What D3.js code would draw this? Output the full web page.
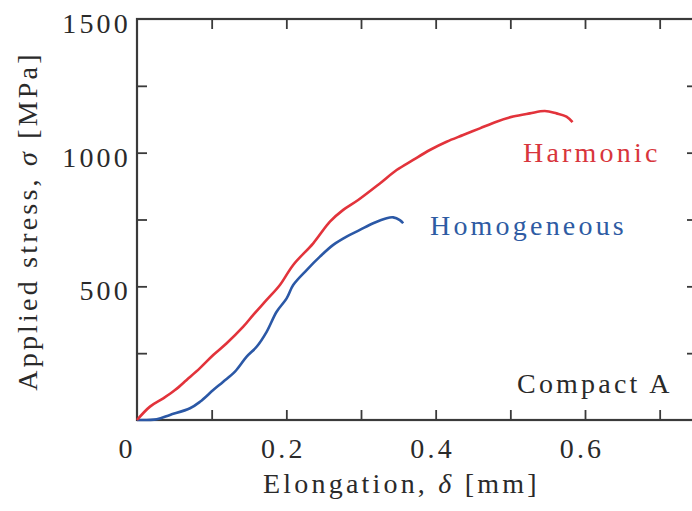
<!DOCTYPE html>
<html><head><meta charset="utf-8">
<script src="https://cdn.jsdelivr.net/npm/d3@7/dist/d3.min.js"></script>
<style>
body{margin:0;background:#fff;}
text{font-family:"Liberation Serif","Times New Roman",serif;}
</style></head>
<body><svg id="c" width="692" height="511"></svg>
<script>
// ---- data ----
const harmonicElong  = [0,0.0174,0.0352,0.0509,0.0665,0.0843,0.1021,0.1201,0.1423,0.1557,0.1736,0.1914,0.2092,0.2360,0.2584,0.2762,0.2962,0.3253,0.3477,0.3699,0.3922,0.4146,0.4368,0.4592,0.4815,0.5037,0.5261,0.5462,0.5618,0.5752,0.5833];
const harmonicStress = [0,50,81,112,150,194,243,287,349,393,449,505,580,661,742,786,823,885,935,973,1010,1041,1066,1091,1116,1135,1147,1156,1147,1135,1114];
const homogElong  = [0,0.0264,0.0442,0.0710,0.0843,0.1021,0.1155,0.1312,0.1469,0.1602,0.1736,0.1870,0.2004,0.2092,0.2272,0.2450,0.2628,0.2807,0.2985,0.3163,0.3343,0.3431,0.3520,0.3565];
const homogStress = [0,3,19,44,68,112,143,181,237,274,330,405,455,505,561,611,655,686,711,736,755,758,748,736];
const xTickValues = [0.1,0.2,0.3,0.4,0.5,0.6,0.7];
const xTickLabels = ["0","0.2","0.4","0.6"];
const xLabelValues = [0,0.2,0.4,0.6];
const yTickValues = [250,500,750,1000,1250];
const yLabelValues = [500,1000,1500];
const yTickLabels = ["500","1000","1500"];
const seriesNames = ["Harmonic","Homogeneous"];

// ---- layout ----
const svg = d3.select("#c");
const L = 137, R = 697, T = 19, B = 420;
const x = d3.scaleLinear().domain([0,0.75]).range([L,R]);
const y = d3.scaleLinear().domain([0,1500]).range([B,T]);
const axisColor = "#3a3a3a";
const ls = "3.2px";

// ticks (inward) on all four sides
const styleAxis = g => { g.select(".domain").remove(); g.selectAll("line").attr("stroke",axisColor).attr("stroke-width",1.8); g.selectAll("text").remove(); };
svg.append("g").attr("transform",`translate(0,${B})`).call(d3.axisBottom(x).tickValues(xTickValues).tickSizeInner(-10).tickSizeOuter(0)).call(styleAxis);
svg.append("g").attr("transform",`translate(0,${T})`).call(d3.axisTop(x).tickValues(xTickValues).tickSizeInner(-10).tickSizeOuter(0)).call(styleAxis);
svg.append("g").attr("transform",`translate(${L},0)`).call(d3.axisLeft(y).tickValues(yTickValues).tickSizeInner(-10).tickSizeOuter(0)).call(styleAxis);
svg.append("g").attr("transform",`translate(${R},0)`).call(d3.axisRight(y).tickValues(yTickValues).tickSizeInner(-10).tickSizeOuter(0)).call(styleAxis);

// frame
svg.append("rect").attr("x",L).attr("y",T).attr("width",R-L).attr("height",B-T)
  .attr("fill","none").attr("stroke",axisColor).attr("stroke-width",2.2);

// tick labels
svg.selectAll(".xl").data(xLabelValues).enter().append("text")
  .attr("x",(d)=> d===0 ? x(d)-10 : x(d)-3).attr("y",B+38)
  .attr("text-anchor","middle").attr("font-size",28).attr("letter-spacing",ls).attr("fill","#2a2a2a")
  .text((d,i)=>xTickLabels[i]);
svg.selectAll(".yl").data(yLabelValues).enter().append("text")
  .attr("x",L-6).attr("y",d=>y(d)+14)
  .attr("text-anchor","end").attr("font-size",28).attr("letter-spacing",ls).attr("fill","#2a2a2a")
  .text((d,i)=>yTickLabels[i]);

// axis titles
const xt = svg.append("text").attr("x",263).attr("y",493).attr("font-size",28).attr("letter-spacing",ls).attr("fill","#2a2a2a");
xt.append("tspan").text("Elongation, ");
xt.append("tspan").attr("font-style","italic").text("δ");
xt.append("tspan").text(" [mm]");
const yt = svg.append("text").attr("transform","translate(37,221) rotate(-90)").attr("text-anchor","middle")
  .attr("font-size",28).attr("letter-spacing",ls).attr("fill","#2a2a2a");
yt.append("tspan").text("Applied stress, ");
yt.append("tspan").attr("font-style","italic").text("σ");
yt.append("tspan").text(" [MPa]");

// curves
const line = d3.line().x(d=>x(d[0])).y(d=>y(d[1])).curve(d3.curveCatmullRom.alpha(0.5));
const harm = harmonicElong.map((v,i)=>[v,harmonicStress[i]]);
const homo = homogElong.map((v,i)=>[v,homogStress[i]]);
svg.append("path").datum(homo).attr("d",line).attr("fill","none").attr("stroke","#2b58a6").attr("stroke-width",2.6).attr("stroke-linejoin","round");
svg.append("path").datum(harm).attr("d",line).attr("fill","none").attr("stroke","#e2333b").attr("stroke-width",2.6).attr("stroke-linejoin","round");

// labels
svg.append("text").attr("x",523).attr("y",162).attr("font-size",28).attr("letter-spacing",ls).attr("fill","#d8353c").text(seriesNames[0]);
svg.append("text").attr("x",430).attr("y",235).attr("font-size",28).attr("letter-spacing",ls).attr("fill","#2e5ba3").text(seriesNames[1]);
svg.append("text").attr("x",517).attr("y",393).attr("font-size",28).attr("letter-spacing",ls).attr("fill","#2a2a2a").text("Compact A");
</script></body></html>
